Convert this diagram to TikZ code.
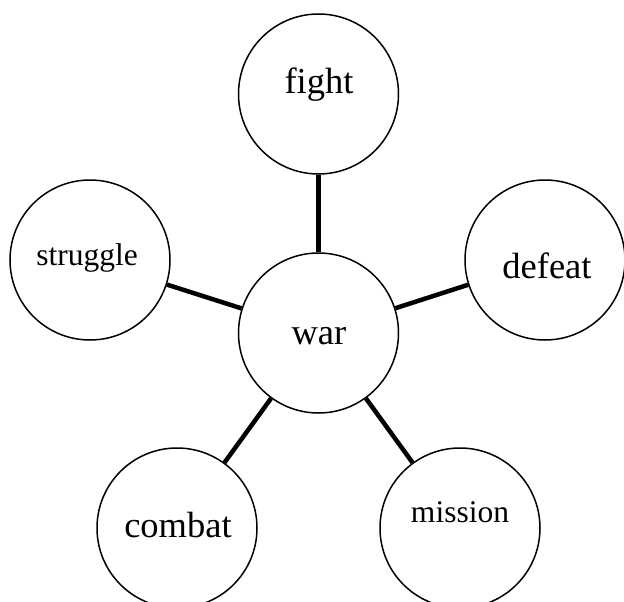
\documentclass[tikz,border=0pt]{standalone}
\usepackage{fontspec}
\setmainfont{Liberation Serif}
\begin{document}
\begin{tikzpicture}[x=1pt,y=-1pt,
  bubble/.style={circle,draw,line width=1.5pt,minimum size=160pt,inner sep=0pt},
  link/.style={line width=4.5pt},
  big/.style={anchor=base,inner sep=0pt,font=\fontsize{36.5}{40}\selectfont},
  small/.style={anchor=base,inner sep=0pt,font=\fontsize{31.5}{35}\selectfont}]
\useasboundingbox (0,0) rectangle (624,602);
\clip (0,0) rectangle (624,602);
\fill[white] (0,0) rectangle (624,602);
% circles
\node[bubble] (war) at (318.5,333) {};
\node[bubble] (fight) at (318.5,94) {};
\node[bubble] (struggle) at (90,260) {};
\node[bubble] (defeat) at (545,260) {};
\node[bubble] (combat) at (177,528) {};
\node[bubble] (mission) at (460,528) {};
% spokes
\draw[link] (war) -- (fight);
\draw[link] (war) -- (struggle);
\draw[link] (war) -- (defeat);
\draw[link] (war) -- (combat);
\draw[link] (war) -- (mission);
% words
\node[big] (twar) at (319,344) {war};
\node[big] (tfight) at (319,93) {fight};
\node[small] (tstruggle) at (87,265) {struggle};
\node[big] (tdefeat) at (547,278) {defeat};
\node[big] (tcombat) at (178,537) {combat};
\node[small] (tmission) at (460,522) {mission};
\end{tikzpicture}
\end{document}
